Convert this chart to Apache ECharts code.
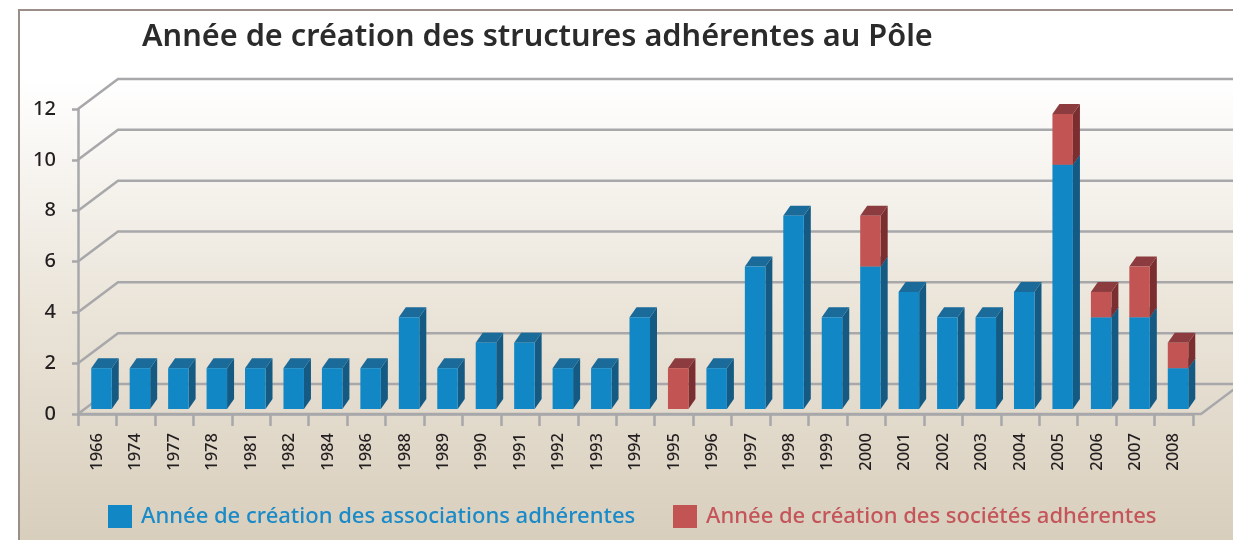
<!DOCTYPE html>
<html>
<head>
<meta charset="utf-8">
<title>Année de création des structures adhérentes au Pôle</title>
<script src="https://cdn.jsdelivr.net/npm/echarts@6/dist/echarts.min.js"></script>
<style>
  html, body { margin: 0; padding: 0; background: #fff; }
  #main { width: 1233px; height: 540px; }
</style>
</head>
<body>
<div id="main"></div>
<script>
// catégories : années de création
var annees = ['1966', '1974', '1977', '1978', '1981', '1982', '1984', '1986', '1988', '1989',
  '1990', '1991', '1992', '1993', '1994', '1995', '1996', '1997', '1998', '1999',
  '2000', '2001', '2002', '2003', '2004', '2005', '2006', '2007', '2008']
// nombre d'associations par année
var associations = [2, 2, 2, 2, 2, 2, 2, 2, 4, 2, 3, 3, 2, 2, 4, 0, 2, 6, 8, 4, 6, 5, 4, 4, 5, 10, 4, 4, 2]
// nombre de sociétés par année
var societes = [0, 0, 0, 0, 0, 0, 0, 0, 0, 0, 0, 0, 0, 0, 0, 2, 0, 0, 0, 0, 2, 0, 0, 0, 0, 2, 1, 2, 1]
// graduations de l'axe vertical
var graduations = [0, 2, 4, 6, 8, 10, 12]

var nomAssoc = 'Année de création des associations adhérentes'
var nomSoc = 'Année de création des sociétés adhérentes'
var police = "'Noto Sans', 'DejaVu Sans', sans-serif"
var gris = '#a8a8ab'

var chart = echarts.init(document.getElementById('main'))

// barre en 3D : face avant, côté droit, dessus
function barre3d (couleurs) {
  return function (params, api) {
    var i = api.value(0)
    var bas = api.value(1)
    var haut = api.value(2)
    if (haut <= bas) return
    var c = api.coord([i, 0])
    var x = c[0] - 6
    var w = 20.5
    var dx = 7
    var dy = -10
    var yb = bas === 0 ? c[1] - 5 : api.coord([i, bas])[1] + 5
    var yt = api.coord([i, haut])[1] + 5
    return {
      type: 'group',
      children: [
        { type: 'polygon', shape: { points: [[x + w, yt], [x + w + dx, yt + dy], [x + w + dx, yb + dy], [x + w, yb]] }, style: { fill: couleurs[1] } },
        { type: 'polygon', shape: { points: [[x, yt], [x + dx, yt + dy], [x + w + dx, yt + dy], [x + w, yt]] }, style: { fill: couleurs[2] } },
        { type: 'rect', shape: { x: x, y: yt, width: w, height: yb - yt }, style: { fill: couleurs[0] } }
      ]
    }
  }
}

// murs du fond et sol
function murs (params, api) {
  var bande = api.size([1, 0])[0]
  var x0 = api.coord([0, 0])[0] - bande / 2
  var xFin = api.coord([annees.length - 1, 0])[0] + bande / 2
  var larg = api.getWidth()
  var enfants = []
  graduations.forEach(function (v) {
    var y = api.coord([0, v])[1]
    enfants.push({
      type: 'polyline',
      shape: { points: [[x0, y], [x0 + 40, y - 30], [larg, y - 30]] },
      style: { stroke: gris, lineWidth: 2.5, fill: null }
    })
  })
  var y0 = api.coord([0, 0])[1]
  enfants.push({
    type: 'polyline',
    shape: { points: [[x0, y0], [xFin + 8, y0], [xFin + 48, y0 - 30]] },
    style: { stroke: gris, lineWidth: 2.5, fill: null }
  })
  return { type: 'group', children: enfants }
}

var dataAssoc = annees.map(function (a, i) { return [i, 0, associations[i]] })
var dataSoc = annees.map(function (a, i) { return [i, associations[i], associations[i] + societes[i]] })

var option = {
  animation: false,
  title: {
    text: 'Année de création des structures adhérentes au Pôle',
    left: 137,
    top: 17,
    textStyle: { fontFamily: police, fontSize: 30.7, fontWeight: 600, color: '#2b2b2b' }
  },
  graphic: [
    {
      type: 'rect',
      z: -10,
      shape: { x: 19, y: 10, width: 1216, height: 532 },
      style: {
        fill: new echarts.graphic.LinearGradient(0, 0, 0, 1, [
          { offset: 0, color: '#ffffff' },
          { offset: 0.13, color: '#ffffff' },
          { offset: 0.55, color: '#ebe5da' },
          { offset: 1, color: '#d8cebc' }
        ]),
        stroke: '#9b8d87',
        lineWidth: 2
      }
    }
  ],
  legend: [
    {
      left: 103,
      top: 500,
      icon: 'rect',
      itemWidth: 24,
      itemHeight: 23,
      selectedMode: false,
      data: [{ name: nomAssoc, textStyle: { color: '#1a8ac8' } }],
      textStyle: { fontFamily: police, fontSize: 22, fontWeight: 500, padding: [0, 0, 0, 4] }
    },
    {
      left: 668,
      top: 500,
      icon: 'rect',
      itemWidth: 24,
      itemHeight: 23,
      selectedMode: false,
      data: [{ name: nomSoc, textStyle: { color: '#c4555a' } }],
      textStyle: { fontFamily: police, fontSize: 22, fontWeight: 500, padding: [0, 0, 0, 4] }
    }
  ],
  grid: { left: 78, right: 40, top: 109, bottom: 126 },
  xAxis: {
    type: 'category',
    data: annees,
    axisLine: { show: true, lineStyle: { color: gris, width: 2.5 } },
    axisTick: { show: true, length: 12, interval: 0, lineStyle: { color: gris, width: 2.5 } },
    axisLabel: { rotate: 90, interval: 0, margin: 19, fontSize: 16.5, fontWeight: 500, fontFamily: police, color: '#231f20' },
    splitLine: { show: false }
  },
  yAxis: {
    type: 'value',
    min: 0,
    max: 12,
    interval: 2,
    axisLine: { show: true, lineStyle: { color: gris, width: 2.5 } },
    axisTick: { show: true, length: 6, lineStyle: { color: gris, width: 2.5 } },
    axisLabel: { margin: 22, fontSize: 20, fontWeight: 500, fontFamily: police, color: '#231f20' },
    splitLine: { show: false }
  },
  series: [
    {
      type: 'custom',
      name: 'murs',
      renderItem: murs,
      data: [[0, 0]],
      silent: true,
      z: 1
    },
    {
      type: 'custom',
      name: nomAssoc,
      renderItem: barre3d(['#1287c6', '#155a82', '#1a6a9a']),
      itemStyle: { color: '#1287c6' },
      encode: { x: 0, y: 2 },
      data: dataAssoc,
      z: 3
    },
    {
      type: 'custom',
      name: nomSoc,
      renderItem: barre3d(['#c25553', '#7b2e30', '#8c3c3e']),
      itemStyle: { color: '#c25553' },
      encode: { x: 0, y: 2 },
      data: dataSoc,
      z: 4
    }
  ]
}

chart.setOption(option)
</script>
</body>
</html>
